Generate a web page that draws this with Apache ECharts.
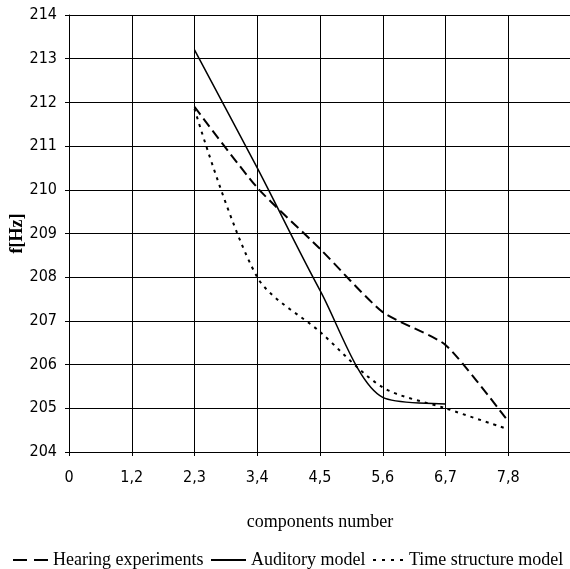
<!DOCTYPE html>
<html>
<head>
<meta charset="utf-8">
<script src="https://cdn.jsdelivr.net/npm/echarts@6/dist/echarts.min.js"></script>
<style>
  html, body { margin: 0; padding: 0; background: #fff; }
  #chart { width: 570px; height: 569px; }
</style>
</head>
<body>
<div id="chart"></div>
<script>
// Category labels along the x axis (the last slot is an empty extra column)
const categories = ['0', '1,2', '2,3', '3,4', '4,5', '5,6', '6,7', '7,8', ''];

// Pitch estimates f[Hz] per components number
const hearingExperiments = [null, null, 211.9, 210.05, 208.65, 207.2, 206.45, 204.7];
const auditoryModel      = [null, null, 213.2, 210.5, 207.7, 205.25, 205.1];
const timeStructureModel = [null, null, 211.85, 208.0, 206.75, 205.48, 205.0, 204.52];

const yMin = 204, yMax = 214, yStep = 1;

const tickFont = "'Liberation Sans Narrow', 'DejaVu Sans Condensed', sans-serif";
const serif = "'Liberation Serif', 'Times New Roman', serif";

const chart = echarts.init(document.getElementById('chart'));

function lineSeries(name, data, type, width, smooth) {
  return {
    name: name,
    type: 'line',
    data: data,
    smooth: smooth,
    symbol: 'none',
    connectNulls: false,
    lineStyle: { color: '#000', width: width, type: type },
    itemStyle: { color: '#000' },
    emphasis: { disabled: true },
    animation: false
  };
}

// legend keys show only the line sample (no marker)
const legendBase = {
  top: 551,
  padding: 0,
  itemHeight: 10,
  itemWidth: 35,
  itemStyle: { color: 'rgba(0,0,0,0)', borderColor: 'rgba(0,0,0,0)', borderWidth: 0 },
  textStyle: { fontFamily: serif, fontSize: 18, color: '#000' },
  selectedMode: false
};

chart.setOption({
  animation: false,
  backgroundColor: '#fff',
  grid: { left: 69, top: 15, width: 502, height: 437, containLabel: false, outerBoundsMode: 'none' },
  xAxis: {
    type: 'category',
    data: categories,
    boundaryGap: false,
    name: 'components number',
    nameLocation: 'middle',
    nameGap: 61,
    nameMoveOverlap: false,
    nameTextStyle: { fontFamily: serif, fontSize: 18, color: '#000' },
    axisLine: { show: true, lineStyle: { color: '#000', width: 1 } },
    axisTick: { show: true, length: 4, inside: false, lineStyle: { color: '#000' } },
    axisLabel: { fontFamily: tickFont, fontSize: 16, color: '#000', margin: 18, interval: 0 },
    splitLine: { show: true, interval: 0, lineStyle: { color: '#000', width: 1 } }
  },
  yAxis: {
    type: 'value',
    min: yMin,
    max: yMax,
    interval: yStep,
    name: 'f[Hz]',
    nameLocation: 'middle',
    nameGap: 43,
    nameMoveOverlap: false,
    nameTextStyle: { fontFamily: serif, fontSize: 18, fontWeight: 'bold', color: '#000' },
    axisLine: { show: true, lineStyle: { color: '#000', width: 1 } },
    axisTick: { show: true, length: 4, inside: false, lineStyle: { color: '#000' } },
    axisLabel: { fontFamily: tickFont, fontSize: 16, color: '#000', margin: 12 },
    splitLine: { show: true, lineStyle: { color: '#000', width: 1 } }
  },
  legend: [
    Object.assign({}, legendBase, { left: 12, data: ['Hearing experiments'], lineStyle: { type: [14, 7] } }),
    Object.assign({}, legendBase, { left: 210, data: ['Auditory model'] }),
    Object.assign({}, legendBase, { left: 372, itemWidth: 31, data: ['Time structure model'], lineStyle: { type: [3, 6] } })
  ],
  series: [
    lineSeries('Hearing experiments', hearingExperiments, [10, 5], 2, 0.2),
    lineSeries('Auditory model', auditoryModel, 'solid', 1.5, 0.3),
    lineSeries('Time structure model', timeStructureModel, [3, 5], 2, 0.3)
  ]
});
</script>
</body>
</html>
